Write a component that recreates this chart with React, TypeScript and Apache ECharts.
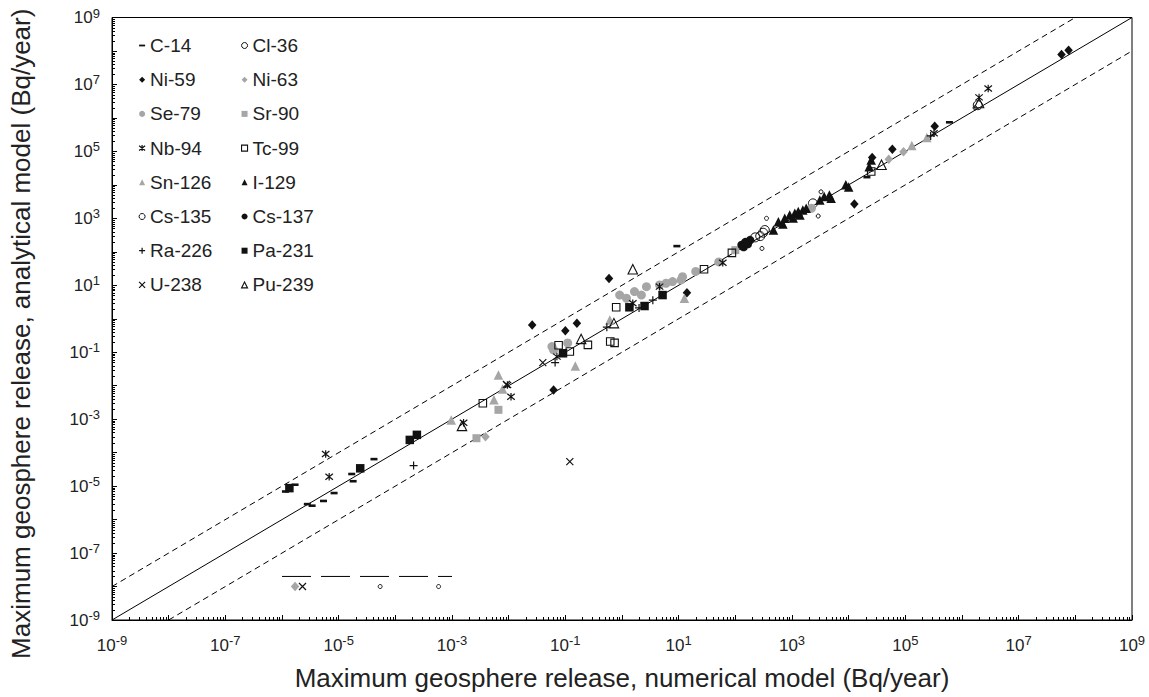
import React, { useEffect, useRef } from 'react';
import * as echarts from 'echarts';

// ---- data: [numerical model, analytical model] (Bq/year) ----
const c14 = [
  [1.15e-6, 6.9e-6], [1.7e-6, 1.1e-5], [2.8e-6, 2.9e-6], [3.4e-6, 2.6e-6], [5.4e-6, 3.6e-6],
  [8.3e-6, 6.2e-6], [1.7e-5, 2.3e-5], [1.8e-5, 1.4e-5], [4.2e-5, 6.4e-5], [9.3, 148],
  [2.1e4, 1.7e4], [6e5, 7.4e5],
];
const cl36 = [
  [224, 270], [275, 295], [309, 372], [331, 447], [2340, 2800], [1.9e6, 2.4e6],
];
const ni59 = [
  [0.026, 0.65], [0.062, 0.0075], [0.1, 0.44], [0.16, 0.74], [0.59, 16], [14, 6],
  [1.26e4, 2700], [2.6e4, 6.6e4], [5.9e4, 1.15e5], [3.3e5, 5.6e5], [5.7e7, 7.9e7], [7.6e7, 1.05e8],
];
const ni63 = [
  [0.0039, 3.0e-4], [5.1e4, 5.8e4], [9.3e4, 9.8e4], [1.7e-6, 1e-8],
];
const se79 = [
  [0.058, 0.147], [0.062, 0.117], [0.11, 0.19], [0.91, 5.1], [1.2, 4.1], [1.66, 6.5], [2.2, 5.1],
  [2.7, 9.1], [4.6, 10.2], [6.0, 11.5], [7.8, 12.9], [11, 14.5], [11.7, 18], [20, 26], [51, 50],
  [2200, 2000],
];
const sr90 = [
  [0.0027, 2.7e-4], [0.0066, 0.0019], [100, 112],
];
const nb94 = [
  [5.9e-6, 9.1e-5], [6.8e-6, 1.9e-5], [0.0016, 7.8e-4], [0.011, 0.0047], [0.0095, 0.0105],
  [0.071, 0.074], [1.55, 2.9], [4.6, 9.1], [60, 47], [3.2e5, 3.5e5], [2.0e6, 4.1e6], [2.9e6, 7.6e6],
];
const tc99 = [
  [0.0035, 0.003], [0.076, 0.162], [0.12, 0.105], [0.25, 0.166], [0.62, 0.21], [0.74, 0.19],
  [0.79, 2.2], [28, 30], [87, 93], [2.5e4, 2.5e4],
];
const sn126 = [
  [9.7e-4, 9.5e-4], [0.0055, 0.0038], [0.0066, 0.021], [0.0078, 0.0079], [0.15, 0.039],
  [0.61, 0.92], [12.6, 4.1], [1.3e5, 1.5e5], [2.4e5, 2.6e5],
];
const i129 = [
  [470, 450], [575, 790], [690, 680], [745, 1000], [910, 1260], [1050, 1020], [1120, 1410],
  [1290, 1590], [1380, 1260], [1550, 1780], [1780, 2000], [3100, 3500], [3700, 4470], [4570, 5000],
  [4900, 4000], [8900, 1e4], [1e4, 8700], [2.3e4, 3.5e4], [2.5e4, 5.5e4],
];
const cs135 = [
  [295, 126], [355, 1000], [2900, 1170], [3250, 6200], [1.7e6, 2.0e6], [5.4e-5, 1e-8], [5.8e-4, 1e-8],
];
const cs137 = [
  [129, 160], [150, 195], [182, 224], [140, 138], [166, 170],
];
const ra226 = [
  [2.1e-4, 4.1e-5], [0.066, 0.049], [0.54, 0.56], [2.0, 2.1], [3.5, 3.6], [2.8e5, 2.9e5],
];
const pa231 = [
  [1.35e-6, 8.7e-6], [2.4e-5, 3.4e-5], [1.8e-4, 2.4e-4], [2.4e-4, 3.4e-4], [0.091, 0.093],
  [1.35, 2.2], [2.5, 2.4], [5.2, 5.1],
];
const u238 = [
  [0.0091, 0.011], [0.04, 0.049], [0.12, 5.4e-5], [2.3e-6, 1e-8],
];
const pu239 = [
  [0.0015, 6.3e-4], [0.19, 0.25], [0.72, 0.74], [1.55, 30], [3.8e4, 4e4], [2.0e6, 2.8e6],
];

const oneToOne = [[1e-9, 1e-9], [1e9, 1e9]];
const upperBound = [[1e-9, 1e-8], [1e8, 1e9]];
const lowerBound = [[1e-8, 1e-9], [1e9, 1e8]];
const zeroLine = [[1e-6, 2e-8], [1e-3, 2e-8]];

const xTitle = 'Maximum geosphere release, numerical model (Bq/year)';
const yTitle = 'Maximum geosphere release, analytical model (Bq/year)';

const leftColumn = ['C-14', 'Ni-59', 'Se-79', 'Nb-94', 'Sn-126', 'Cs-135', 'Ra-226', 'U-238'];
const rightColumn = ['Cl-36', 'Ni-63', 'Sr-90', 'Tc-99', 'I-129', 'Cs-137', 'Pa-231', 'Pu-239'];

const seriesData: Record<string, number[][]> = {
  'C-14': c14, 'Cl-36': cl36, 'Ni-59': ni59, 'Ni-63': ni63, 'Se-79': se79, 'Sr-90': sr90,
  'Nb-94': nb94, 'Tc-99': tc99, 'Sn-126': sn126, 'I-129': i129, 'Cs-135': cs135, 'Cs-137': cs137,
  'Ra-226': ra226, 'Pa-231': pa231, 'U-238': u238, 'Pu-239': pu239,
};

// ---- styles ----
const FONT = '"Liberation Sans", Arial, Helvetica, sans-serif';
const BLACK = '#111111';
const GRAY = '#a6a6a6';
const TXT = '#222222';

const PLUS = 'path://M5,0V10M0,5H10';
const CROSS = 'path://M0,0L10,10M10,0L0,10';
const STAR = 'path://M0,1L10,9M10,1L0,9M5,0V10';
const DASH = 'path://M0,0H10V3H0Z';

type Sty = { symbol: string; size: number | number[]; fill: string; stroke: string; bw: number };
const styles: Record<string, Sty> = {
  'C-14': { symbol: DASH, size: [7, 2.6], fill: BLACK, stroke: BLACK, bw: 0 },
  'Cl-36': { symbol: 'circle', size: 9, fill: 'transparent', stroke: BLACK, bw: 1 },
  'Ni-59': { symbol: 'diamond', size: [8.5, 9.5], fill: BLACK, stroke: BLACK, bw: 0 },
  'Ni-63': { symbol: 'diamond', size: [8.5, 9.5], fill: GRAY, stroke: GRAY, bw: 0 },
  'Se-79': { symbol: 'circle', size: 9, fill: GRAY, stroke: GRAY, bw: 0 },
  'Sr-90': { symbol: 'rect', size: 8, fill: GRAY, stroke: GRAY, bw: 0 },
  'Nb-94': { symbol: STAR, size: 7.5, fill: 'transparent', stroke: BLACK, bw: 1.2 },
  'Tc-99': { symbol: 'rect', size: 7.5, fill: 'transparent', stroke: BLACK, bw: 1.1 },
  'Sn-126': { symbol: 'triangle', size: 9.5, fill: GRAY, stroke: GRAY, bw: 0 },
  'I-129': { symbol: 'triangle', size: 9.5, fill: BLACK, stroke: BLACK, bw: 0 },
  'Cs-135': { symbol: 'circle', size: 4, fill: 'transparent', stroke: BLACK, bw: 1 },
  'Cs-137': { symbol: 'circle', size: 8.5, fill: BLACK, stroke: BLACK, bw: 0 },
  'Ra-226': { symbol: PLUS, size: 8, fill: 'transparent', stroke: BLACK, bw: 1.2 },
  'Pa-231': { symbol: 'rect', size: 8.5, fill: BLACK, stroke: BLACK, bw: 0 },
  'U-238': { symbol: CROSS, size: 7, fill: 'transparent', stroke: BLACK, bw: 1.2 },
  'Pu-239': { symbol: 'triangle', size: 9.5, fill: 'transparent', stroke: BLACK, bw: 1.1 },
};

function supLabel(v: number): string {
  const e = Math.round(Math.log10(v));
  if ((e + 9) % 2 !== 0) return '';
  return '{b|10}{s|' + e + '}';
}

const richLabel = {
  b: { fontSize: 17, fontFamily: FONT, color: TXT },
  s: { fontSize: 13, fontFamily: FONT, color: TXT, padding: [0, 0, 9, 0] },
};

function buildOption() {
  const minorX: number[][] = [];
  const minorY: number[][] = [];
  for (let e = -9; e < 9; e++) {
    for (let k = 2; k <= 9; k++) {
      minorX.push([k * Math.pow(10, e), 1e-9]);
      minorY.push([1e-9, k * Math.pow(10, e)]);
    }
  }

  const scatterSeries = Object.keys(seriesData).map((name) => {
    const s = styles[name];
    return {
      name,
      type: 'scatter',
      data: seriesData[name],
      symbol: s.symbol,
      symbolSize: s.size,
      z: 5,
      silent: true,
      itemStyle: { color: s.fill, borderColor: s.stroke, borderWidth: s.bw, opacity: 1 },
    };
  });

  const legendItem = (name: string) => {
    const s = styles[name];
    return {
      name,
      icon: s.symbol,
      itemStyle: { color: s.fill, borderColor: s.stroke, borderWidth: s.bw },
    };
  };

  const legendBase = {
    orient: 'vertical',
    top: 36,
    padding: 0,
    itemWidth: 6,
    itemHeight: 6,
    itemGap: 15.2,
    selectedMode: false,
    textStyle: { fontSize: 19, color: TXT, fontFamily: FONT },
  };

  const lineBase = {
    type: 'line',
    showSymbol: false,
    symbol: 'none',
    silent: true,
    z: 2,
  };

  return {
    animation: false,
    backgroundColor: '#ffffff',
    grid: {
      left: 102.5,
      top: 17.5,
      right: 17,
      bottom: 77,
      show: true,
      borderColor: '#000',
      borderWidth: 1,
      backgroundColor: 'transparent',
    },
    legend: [
      { ...legendBase, left: 138.5, data: leftColumn.map(legendItem) },
      { ...legendBase, left: 241, data: rightColumn.map(legendItem) },
    ],
    xAxis: {
      type: 'log',
      logBase: 10,
      min: 1e-9,
      max: 1e9,
      interval: 1,
      name: xTitle,
      nameLocation: 'middle',
      nameGap: 45,
      nameTextStyle: { fontSize: 26, color: TXT, fontFamily: FONT },
      axisLine: { lineStyle: { color: '#000', width: 1 } },
      axisTick: { inside: true, length: 5, lineStyle: { color: '#000' } },
      splitLine: { show: false },
      axisLabel: { formatter: supLabel, rich: richLabel, margin: 14 },
    },
    yAxis: {
      type: 'log',
      logBase: 10,
      min: 1e-9,
      max: 1e9,
      interval: 1,
      name: yTitle,
      nameLocation: 'middle',
      nameGap: 78,
      nameTextStyle: { fontSize: 26, color: TXT, fontFamily: FONT, padding: [0, 30, 0, 0] },
      axisLine: { lineStyle: { color: '#000', width: 1 } },
      axisTick: { inside: true, length: 5, lineStyle: { color: '#000' } },
      splitLine: { show: false },
      axisLabel: { formatter: supLabel, rich: richLabel, margin: 12 },
    },
    series: [
      { ...lineBase, name: '1:1', data: oneToOne, lineStyle: { color: '#000', width: 1 } },
      { ...lineBase, name: 'upper', data: upperBound, lineStyle: { color: '#000', width: 1, type: [6, 4] } },
      { ...lineBase, name: 'lower', data: lowerBound, lineStyle: { color: '#000', width: 1, type: [6, 4] } },
      { ...lineBase, name: 'zero', data: zeroLine, lineStyle: { color: '#000', width: 1, type: [29, 10] } },
      {
        type: 'custom',
        name: 'minorX',
        silent: true,
        data: minorX,
        encode: { x: 0, y: 1 },
        renderItem: (_p: any, api: any) => {
          const pt = api.coord([api.value(0), api.value(1)]);
          const x = Math.round(pt[0]) + 0.5;
          return {
            type: 'line',
            shape: { x1: x, y1: pt[1], x2: x, y2: pt[1] - 3 },
            style: { stroke: '#000', lineWidth: 1 },
          };
        },
        z: 3,
      },
      {
        type: 'custom',
        name: 'minorY',
        silent: true,
        data: minorY,
        encode: { x: 0, y: 1 },
        renderItem: (_p: any, api: any) => {
          const pt = api.coord([api.value(0), api.value(1)]);
          const y = Math.round(pt[1]) + 0.5;
          return {
            type: 'line',
            shape: { x1: pt[0], y1: y, x2: pt[0] + 3, y2: y },
            style: { stroke: '#000', lineWidth: 1 },
          };
        },
        z: 3,
      },
      ...scatterSeries,
    ],
  };
}

export default function App() {
  const ref = useRef<HTMLDivElement>(null);
  useEffect(() => {
    if (!ref.current) return;
    const chart = echarts.init(ref.current, undefined, { renderer: 'svg' });
    chart.setOption(buildOption() as any);
    return () => chart.dispose();
  }, []);
  return (
    <div
      ref={ref}
      style={{ position: 'absolute', left: 0, top: 0, width: 1149, height: 697, background: '#fff' }}
    />
  );
}
